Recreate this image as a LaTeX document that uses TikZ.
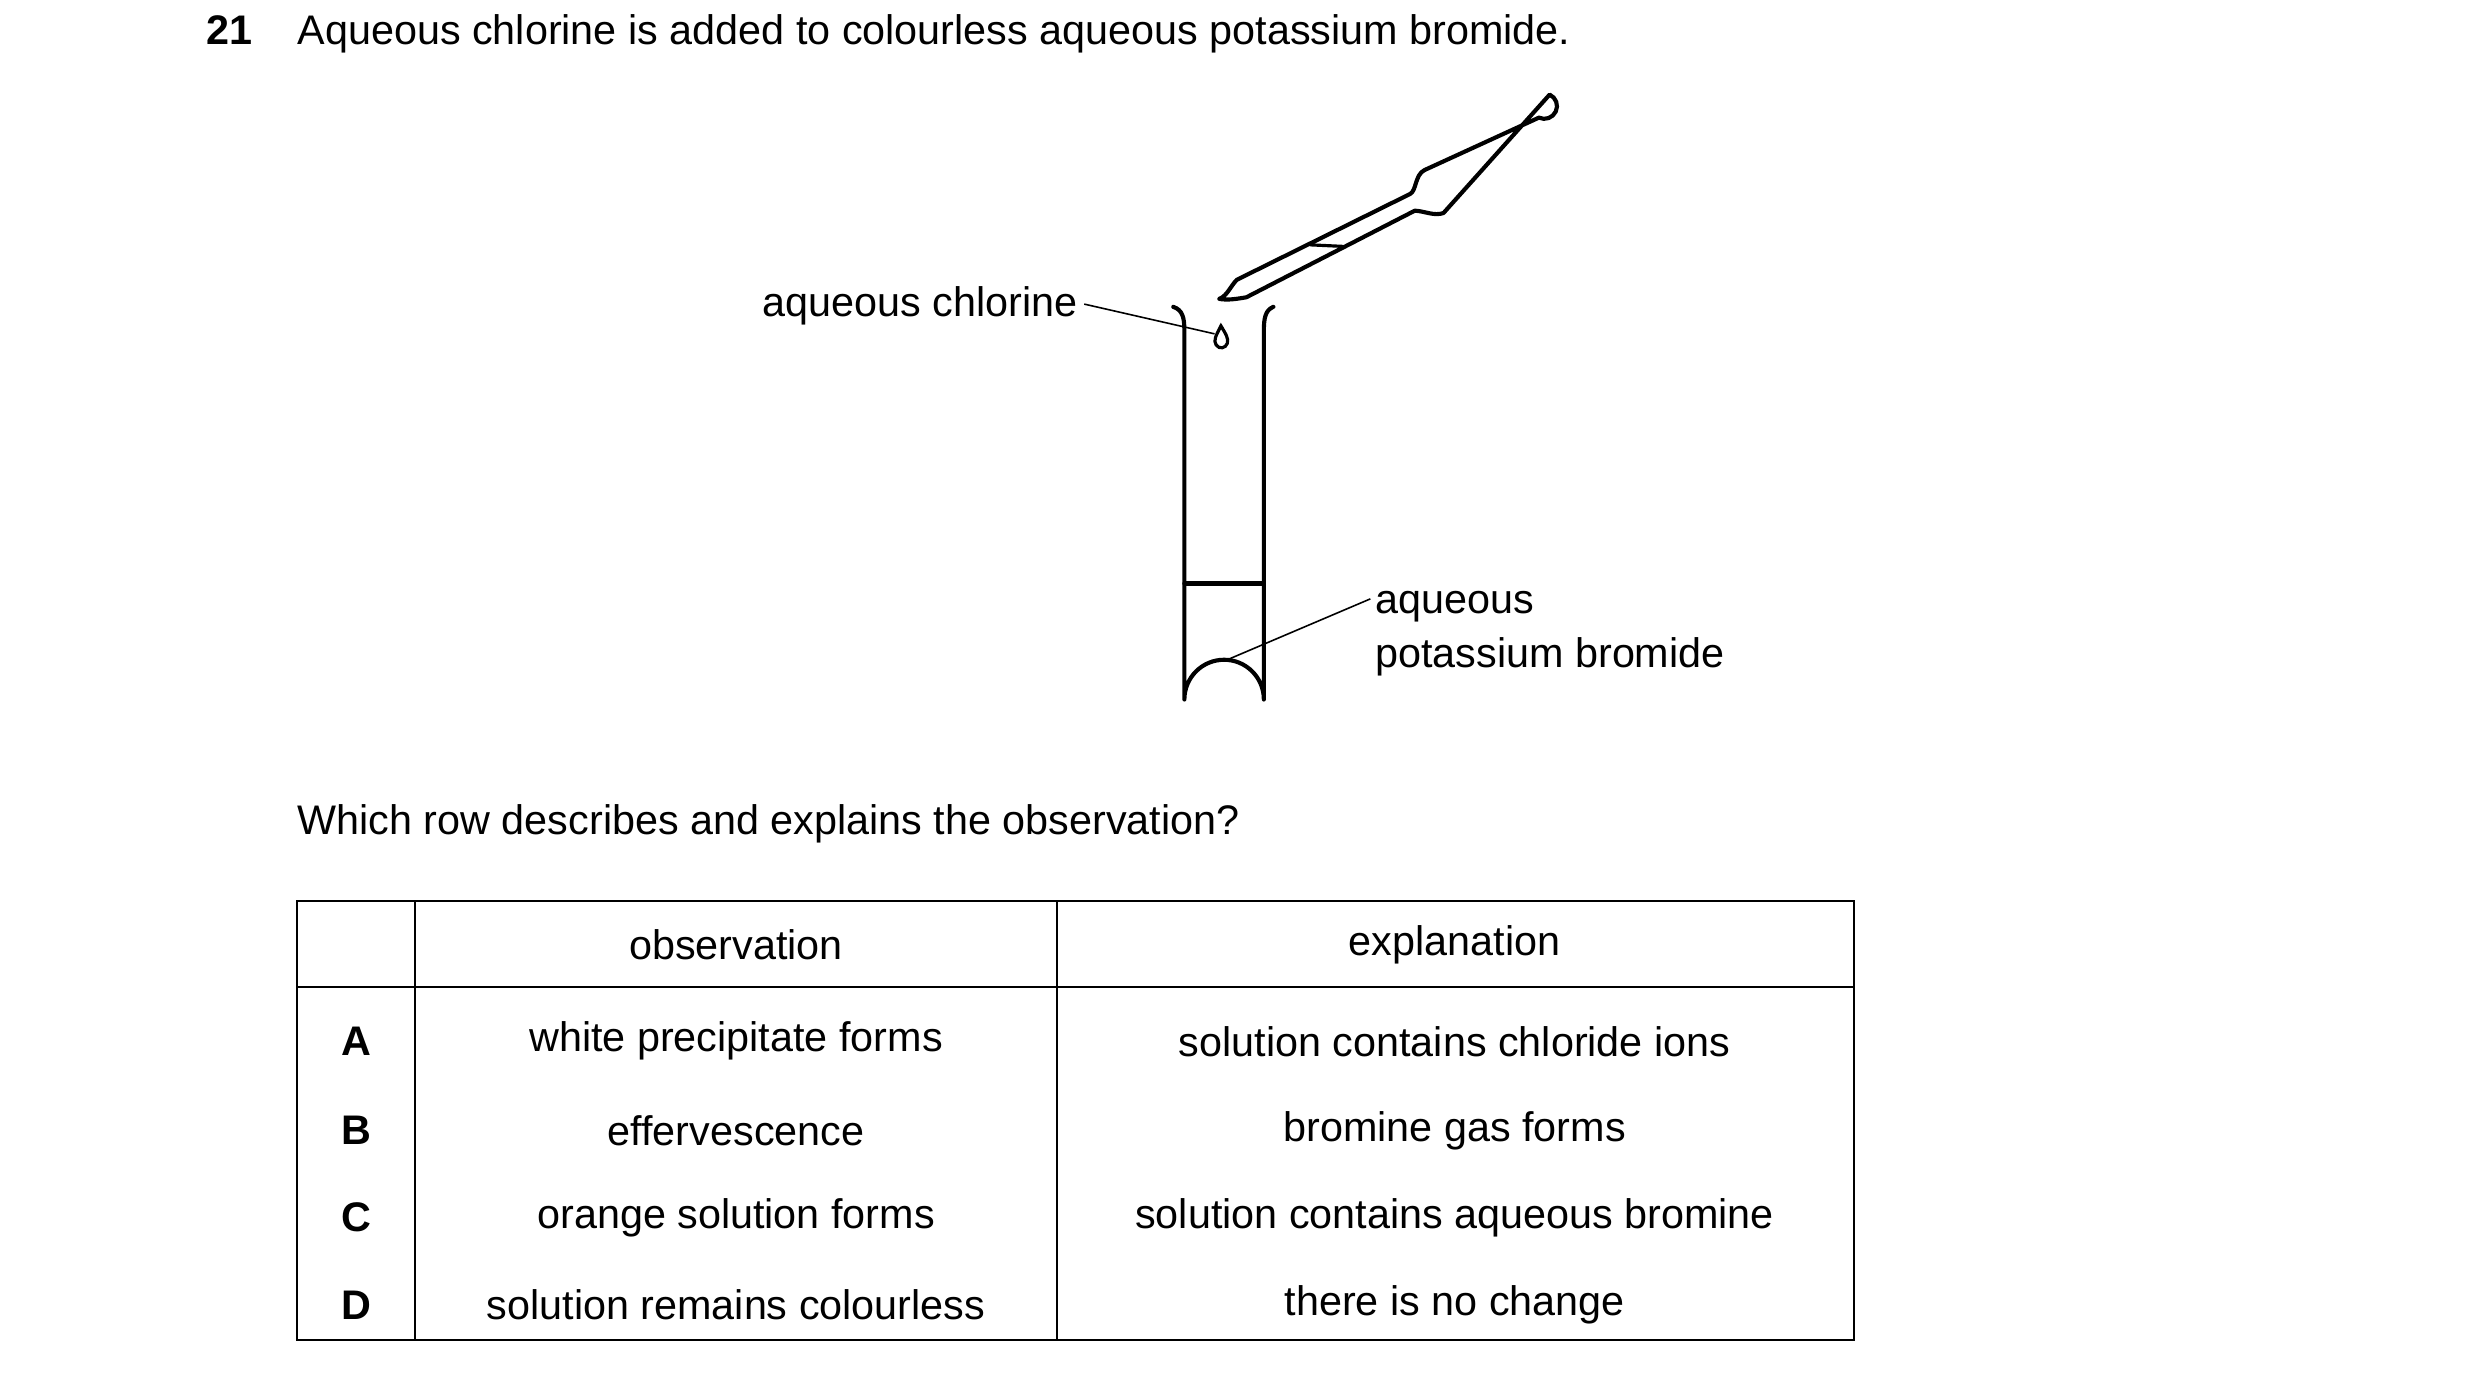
\documentclass[tikz,border=0pt]{standalone}
\usepackage{fontspec}
\setmainfont{Liberation Sans}
\begin{document}
\begin{tikzpicture}[x=1pt,y=-1pt,
  txt/.style={font=\fontsize{26}{31}\selectfont,inner sep=0pt},
  app/.style={line width=2.6pt,line cap=round,line join=round},
  lab/.style={line width=1pt},
  tab/.style={line width=1.3pt}]
\useasboundingbox (0,0) rectangle (1560,865);
% question
\node[txt,anchor=base west,font=\fontsize{26}{31}\selectfont\bfseries] (num) at (130,28) {21};
\node[txt,anchor=base west] (q) at (187,28) {Aqueous chlorine is added to colourless aqueous potassium bromide.};
% test tube
\draw[app] (738,193) .. controls (744,195) and (745,200) .. (745,208) -- (745,440) arc[start angle=180,end angle=360,radius=25] -- (795,208) .. controls (795,200) and (796,195) .. (801,193);
\draw[app] (745,367) -- (795,367);
% drop
\draw[line width=2pt] (768,205) .. controls (765,211) and (763,214) .. (765,217) .. controls (767,220) and (771,219) .. (772,216) .. controls (773,213) and (771,210) .. (768,205) -- cycle;
% pipette
\draw[app] (767,188) .. controls (772,186) and (774,180) .. (778,176) -- (887,122) .. controls (891,120) and (890,110) .. (896,107) -- (968,74) arc[start angle=115,end angle=-65,radius=8] -- (908,134) .. controls (902,136) and (897,133) .. (890,132.5) -- (784,187) .. controls (778,188) and (772,189) .. (767,188);
\draw[line width=2pt] (824,154) -- (845,155);
% labels
\node[txt,anchor=base east] (cl) at (678,199) {aqueous chlorine};
\coordinate (drop) at (764,210);
\draw[lab] (cl.east) ++(4,-1) -- (drop);
\node[txt,anchor=base west,align=left] (kbr) at (865,386) {aqueous};
\node[txt,anchor=base west] (kbr2) at (865,420) {potassium bromide};
\coordinate (liq) at (772,415);
\draw[lab] (kbr.west) ++(-3,-5) -- (liq);
\node[txt,anchor=base west] (which) at (187,525) {Which row describes and explains the observation?};
% table
\draw[tab] (187,567) rectangle (1166,843);
\draw[tab] (261,567) -- (261,843) (665,567) -- (665,843) (187,621) -- (1166,621);
\node[txt] (h1) at (463,594) {observation};
\node[txt] (h2) at (915,594) {explanation};
\foreach \l/\o/\e/\y in {A/white precipitate forms/solution contains chloride ions/655,
  B/effervescence/bromine gas forms/711,
  C/orange solution forms/solution contains aqueous bromine/766,
  D/solution remains colourless/there is no change/821}{
  \node[txt,font=\fontsize{26}{31}\selectfont\bfseries] (l\l) at (224,\y) {\l};
  \node[txt] (o\l) at (463,\y) {\o};
  \node[txt] (e\l) at (915,\y) {\e};
}
\end{tikzpicture}
\end{document}
